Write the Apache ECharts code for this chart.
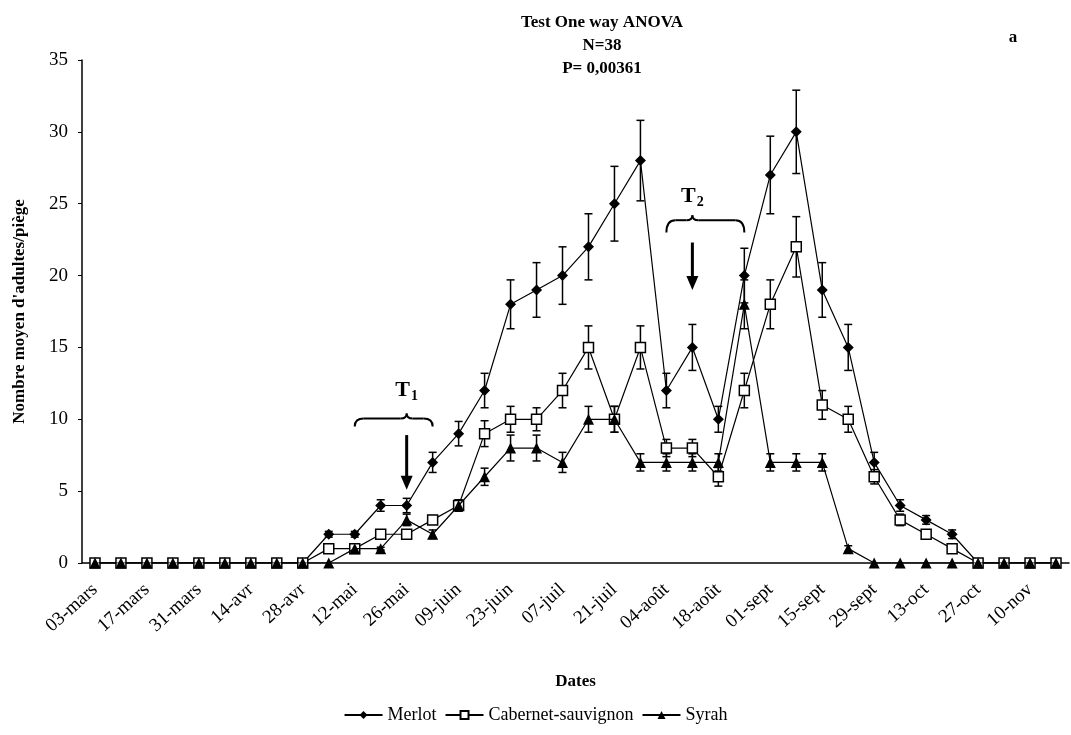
<!DOCTYPE html>
<html>
<head>
<meta charset="utf-8">
<script src="https://cdn.jsdelivr.net/npm/echarts@6/dist/echarts.min.js"></script>
<style>
  html, body { margin: 0; padding: 0; background: #fff; }
  #main { width: 1071px; height: 735px; }
</style>
</head>
<body>
<div id="main"></div>
<script>
// weekly sampling dates
var dates = ['03-mars','10-mars','17-mars','24-mars','31-mars','07-avr','14-avr','21-avr','28-avr',
  '05-mai','12-mai','19-mai','26-mai','02-juin','09-juin','16-juin','23-juin','30-juin',
  '07-juil','14-juil','21-juil','28-juil','04-août','11-août','18-août','25-août',
  '01-sept','08-sept','15-sept','22-sept','29-sept','06-oct','13-oct','20-oct','27-oct',
  '03-nov','10-nov','17-nov'];

// mean adults per trap
var merlot = [0,0,0,0,0,0,0,0,0, 2,2,4,4,7,9,12,18,19,20,22,25,28,12,15,10,20,27,30,19,15,7,4,3,2, 0,0,0,0];
var cabernet = [0,0,0,0,0,0,0,0,0, 1,1,2,2,3,4,9,10,10,12,15,10,15,8,8,6,12,18,22,11,10,6,3,2,1, 0,0,0,0];
var syrah = [0,0,0,0,0,0,0,0,0,0, 1,1,3,2,4,6,8,8,7,10,10,7,7,7,7,18,7,7,7,1, 0,0,0,0,0,0,0,0];

// error bar half-lengths
var merlotErr = [0,0,0,0,0,0,0,0,0, 0.2,0.2,0.4,0.5,0.7,0.85,1.2,1.7,1.9,2.0,2.3,2.6,2.8,1.2,1.6,0.9,1.9,2.7,2.9,1.9,1.6,0.7,0.4,0.3,0.3, 0,0,0,0];
var cabernetErr = [0,0,0,0,0,0,0,0,0, 0.1,0.1,0.2,0.3,0.3,0.4,0.9,0.9,0.8,1.2,1.5,0.9,1.5,0.6,0.6,0.65,1.2,1.7,2.1,1.0,0.9,0.5,0.4,0.3,0.2, 0,0,0,0];
var syrahErr = [0,0,0,0,0,0,0,0,0,0, 0.1,0.1,0.4,0.3,0.4,0.6,0.9,0.9,0.7,0.9,0.9,0.6,0.6,0.6,0.6,1.7,0.6,0.6,0.6,0.2, 0,0,0,0,0,0,0,0];

var yTicks = [0, 5, 10, 15, 20, 25, 30, 35];

var serif = '"Liberation Serif", "DejaVu Serif", serif';

function errData(vals, errs) {
  var out = [];
  for (var i = 0; i < vals.length; i++) {
    if (errs[i] > 0) out.push([i, vals[i] - errs[i], vals[i] + errs[i]]);
  }
  return out;
}

function errSeries(name, vals, errs) {
  return {
    name: name + ' err',
    type: 'custom',
    z: 1,
    silent: true,
    data: errData(vals, errs),
    encode: { x: 0, y: [1, 2] },
    renderItem: function (params, api) {
      var lo = api.coord([api.value(0), api.value(1)]);
      var hi = api.coord([api.value(0), api.value(2)]);
      var w = 4;
      return {
        type: 'group',
        children: [
          { type: 'line', shape: { x1: lo[0], y1: lo[1], x2: hi[0], y2: hi[1] }, style: { stroke: '#000', lineWidth: 1.5 } },
          { type: 'line', shape: { x1: lo[0] - w, y1: lo[1], x2: lo[0] + w, y2: lo[1] }, style: { stroke: '#000', lineWidth: 1.5 } },
          { type: 'line', shape: { x1: hi[0] - w, y1: hi[1], x2: hi[0] + w, y2: hi[1] }, style: { stroke: '#000', lineWidth: 1.5 } }
        ]
      };
    }
  };
}

var chart = echarts.init(document.getElementById('main'));

var option = {
  backgroundColor: '#fff',
  animation: false,
  title: {
    text: 'Test One way ANOVA\nN=38\nP= 0,00361',
    left: 597,
    textAlign: 'center',
    top: 6,
    textStyle: { fontFamily: serif, fontSize: 17, fontWeight: 'bold', color: '#000', lineHeight: 23 }
  },
  legend: {
    data: ['Merlot', 'Cabernet-sauvignon', 'Syrah'],
    bottom: 6,
    left: 'center',
    itemWidth: 38,
    itemHeight: 10,
    itemGap: 8,
    textStyle: { fontFamily: serif, fontSize: 18, color: '#000' }
  },
  grid: { left: 82, right: 2, top: 60, bottom: 172, outerBoundsMode: 'none', containLabel: false },
  xAxis: {
    type: 'category',
    data: dates,
    boundaryGap: true,
    name: 'Dates',
    nameLocation: 'middle',
    nameGap: 110,
    nameTextStyle: { fontFamily: serif, fontSize: 17, fontWeight: 'bold', color: '#000' },
    axisLine: { lineStyle: { color: '#000', width: 1.5 } },
    axisTick: { interval: 0, length: 5, lineStyle: { color: '#000' } },
    axisLabel: { interval: 1, rotate: 42, margin: 24, fontFamily: serif, fontSize: 19, color: '#000' },
    splitLine: { show: false }
  },
  yAxis: {
    type: 'value',
    min: yTicks[0],
    max: yTicks[yTicks.length - 1],
    interval: 5,
    name: "Nombre moyen d'adultes/piège",
    nameLocation: 'middle',
    nameGap: 54,
    nameTextStyle: { fontFamily: serif, fontSize: 17, fontWeight: 'bold', color: '#000' },
    axisLine: { show: true, lineStyle: { color: '#000', width: 1.5 } },
    axisTick: { show: true, length: 4, lineStyle: { color: '#000' } },
    axisLabel: { margin: 14, fontFamily: serif, fontSize: 19, color: '#000' },
    splitLine: { show: false }
  },
  series: [
    errSeries('Merlot', merlot, merlotErr),
    errSeries('Cabernet-sauvignon', cabernet, cabernetErr),
    errSeries('Syrah', syrah, syrahErr),
    {
      name: 'Merlot', type: 'line', data: merlot, z: 3,
      symbol: 'diamond', symbolSize: 11,
      lineStyle: { color: '#000', width: 1.2 },
      itemStyle: { color: '#000' }
    },
    {
      name: 'Cabernet-sauvignon', type: 'line', data: cabernet, z: 4,
      symbol: 'rect', symbolSize: 10,
      lineStyle: { color: '#000', width: 1.2 },
      itemStyle: { color: '#fff', borderColor: '#000', borderWidth: 1.5 }
    },
    {
      name: 'Syrah', type: 'line', data: syrah, z: 5,
      symbol: 'triangle', symbolSize: 11,
      lineStyle: { color: '#000', width: 1.2 },
      itemStyle: { color: '#000' }
    }
  ]
};

chart.setOption(option);

// treatment annotations (T1, T2) anchored in data space
var treatments = [
  { label: '1', from: 9.85, to: 13.3, braceTop: 10.4, braceEnd: 9.5, textAt: 12.0, arrowAt: 11.8, arrowFrom: 8.9, arrowTo: 5.1 },
  { label: '2', from: 21.6, to: 25.0, braceTop: 24.2, braceEnd: 23.0, textAt: 25.5, arrowAt: 23.1, arrowFrom: 22.3, arrowTo: 19.0 }
];

function px(x, y) { return chart.convertToPixel({ gridIndex: 0 }, [x, y]); }

var braceStyle = { stroke: '#000', lineWidth: 2, fill: null };
var graphics = [];
treatments.forEach(function (t) {
  var a = px(t.from, t.braceEnd), b = px(t.to, t.braceEnd);
  var top = px((t.from + t.to) / 2, t.braceTop);
  var x0 = a[0], x1 = b[0], xm = top[0], yEnd = a[1], yTop = top[1];
  var yBody = yTop + 5;
  // curly brace made of curves and straight pieces
  graphics.push({ type: 'bezierCurve', z: 10, shape: { x1: x0, y1: yEnd, cpx1: x0, cpy1: yBody, x2: x0 + 9, y2: yBody }, style: braceStyle });
  graphics.push({ type: 'line', z: 10, shape: { x1: x0 + 9, y1: yBody, x2: xm - 6, y2: yBody }, style: braceStyle });
  graphics.push({ type: 'bezierCurve', z: 10, shape: { x1: xm - 6, y1: yBody, cpx1: xm, cpy1: yBody, x2: xm, y2: yTop }, style: braceStyle });
  graphics.push({ type: 'bezierCurve', z: 10, shape: { x1: xm, y1: yTop, cpx1: xm, cpy1: yBody, x2: xm + 6, y2: yBody }, style: braceStyle });
  graphics.push({ type: 'line', z: 10, shape: { x1: xm + 6, y1: yBody, x2: x1 - 9, y2: yBody }, style: braceStyle });
  graphics.push({ type: 'bezierCurve', z: 10, shape: { x1: x1 - 9, y1: yBody, cpx1: x1, cpy1: yBody, x2: x1, y2: yEnd }, style: braceStyle });

  var tp = px((t.from + t.to) / 2, t.textAt);
  graphics.push({
    type: 'text', x: tp[0], y: tp[1], z: 10,
    style: {
      text: '{t|T}{s|' + t.label + '}', align: 'center', verticalAlign: 'middle',
      rich: {
        t: { fontFamily: serif, fontSize: 22, fontWeight: 'bold', fill: '#000' },
        s: { fontFamily: serif, fontSize: 14, fontWeight: 'bold', fill: '#000', padding: [12, 0, 0, 1] }
      }
    }
  });
  var p0 = px(t.arrowAt, t.arrowFrom), p1 = px(t.arrowAt, t.arrowTo);
  graphics.push({ type: 'line', z: 10, shape: { x1: p0[0], y1: p0[1], x2: p1[0], y2: p1[1] - 12 }, style: { stroke: '#000', lineWidth: 3 } });
  graphics.push({ type: 'polygon', z: 10, shape: { points: [[p1[0] - 6, p1[1] - 14], [p1[0] + 6, p1[1] - 14], [p1[0], p1[1]]] }, style: { fill: '#000' } });
});
graphics.push({
  type: 'text', x: 1013, y: 38, z: 10,
  style: { text: 'a', fontFamily: serif, fontSize: 17, fontWeight: 'bold', fill: '#000', align: 'center', verticalAlign: 'middle' }
});

chart.setOption({ graphic: graphics });
</script>
</body>
</html>
